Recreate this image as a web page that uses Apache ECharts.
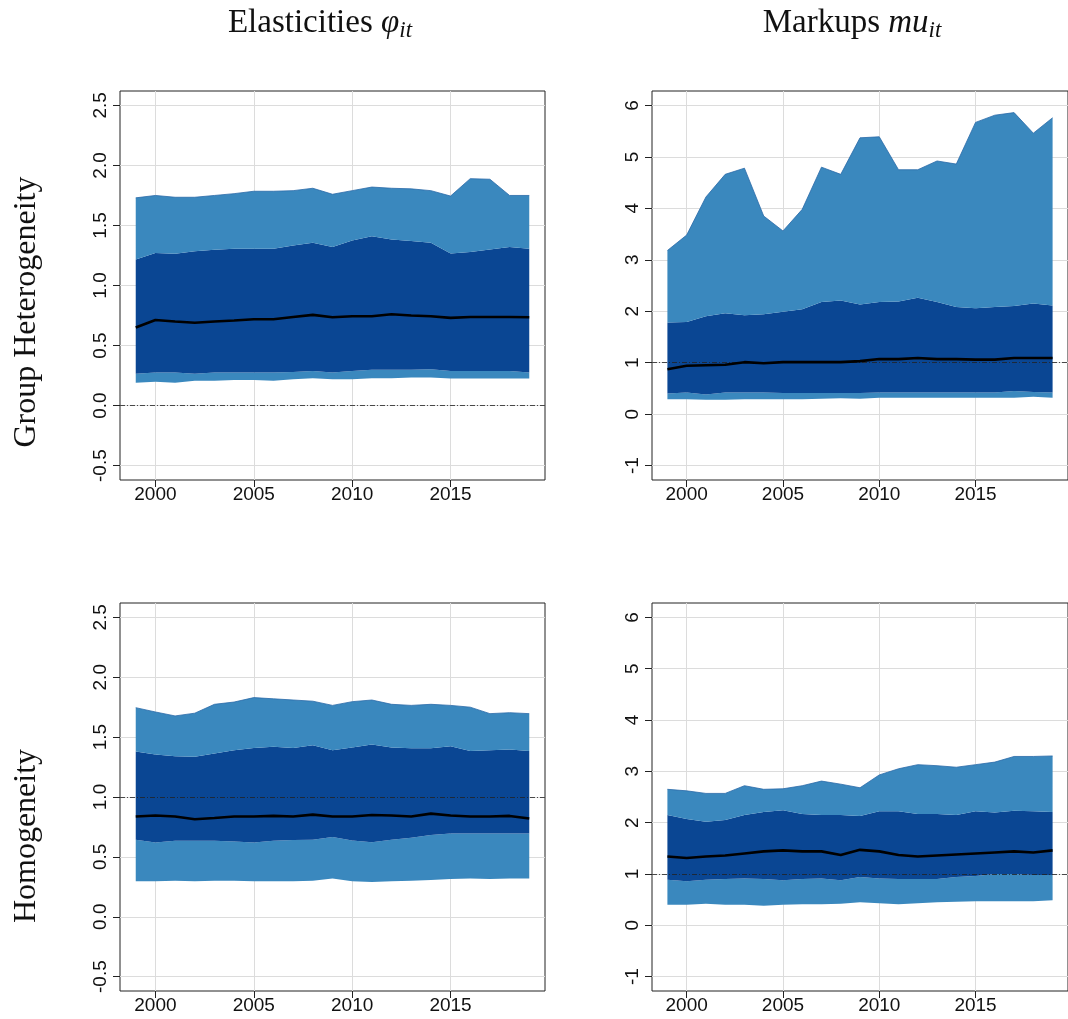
<!DOCTYPE html>
<html>
<head>
<meta charset="utf-8">
<script src="https://cdn.jsdelivr.net/npm/echarts@6/dist/echarts.min.js"></script>
<style>
html,body{margin:0;padding:0;background:#fff;}
#chart{width:1068px;height:1019px;}
</style>
</head>
<body>
<div id="chart"></div>
<script>
// ---------- DATA ----------
const years = [1999,2000,2001,2002,2003,2004,2005,2006,2007,2008,2009,2010,2011,2012,2013,2014,2015,2016,2017,2018,2019];

const xTicks = [2000, 2005, 2010, 2015];
const yTicksElast = [-0.5, 0, 0.5, 1, 1.5, 2, 2.5];
const yTicksMarkup = [-1, 0, 1, 2, 3, 4, 5, 6];

const colTitles = ['Elasticities', 'Markups'];
const rowTitles = ['Group Heterogeneity', 'Homogeneity'];

// Group heterogeneity - elasticities
const ghElastOuterLo = [0.19,0.198,0.19,0.206,0.206,0.212,0.212,0.206,0.22,0.228,0.22,0.22,0.228,0.228,0.234,0.234,0.226,0.226,0.226,0.226,0.226];
const ghElastInnerLo = [0.265,0.276,0.276,0.265,0.276,0.276,0.276,0.276,0.28,0.287,0.276,0.287,0.298,0.298,0.298,0.303,0.287,0.287,0.287,0.287,0.276];
const ghElastMedian  = [0.65,0.713,0.70,0.69,0.70,0.708,0.719,0.719,0.738,0.755,0.735,0.744,0.744,0.76,0.75,0.744,0.73,0.738,0.738,0.738,0.735];
const ghElastInnerUp = [1.217,1.27,1.265,1.285,1.298,1.306,1.306,1.306,1.334,1.356,1.32,1.375,1.41,1.384,1.37,1.356,1.267,1.28,1.30,1.32,1.306];
const ghElastOuterUp = [1.73,1.75,1.735,1.735,1.75,1.765,1.785,1.785,1.79,1.81,1.76,1.79,1.82,1.81,1.805,1.79,1.745,1.89,1.885,1.75,1.75];

// Group heterogeneity - markups
const ghMarkOuterLo = [0.29,0.29,0.28,0.28,0.29,0.29,0.29,0.29,0.30,0.31,0.30,0.32,0.32,0.32,0.32,0.32,0.32,0.32,0.32,0.34,0.32];
const ghMarkInnerLo = [0.40,0.42,0.38,0.42,0.42,0.42,0.41,0.41,0.41,0.41,0.41,0.42,0.42,0.42,0.42,0.42,0.42,0.42,0.45,0.43,0.42];
const ghMarkMedian  = [0.874,0.94,0.95,0.96,1.01,0.99,1.01,1.01,1.01,1.01,1.03,1.07,1.07,1.09,1.07,1.07,1.06,1.06,1.09,1.09,1.09];
const ghMarkInnerUp = [1.78,1.79,1.90,1.96,1.92,1.94,1.99,2.04,2.18,2.21,2.13,2.18,2.19,2.26,2.18,2.08,2.06,2.08,2.10,2.15,2.11];
const ghMarkOuterUp = [3.18,3.48,4.22,4.66,4.78,3.85,3.56,3.98,4.80,4.66,5.37,5.39,4.75,4.75,4.92,4.86,5.67,5.81,5.86,5.46,5.76];

// Homogeneity - elasticities
const hoElastOuterLo = [0.296,0.296,0.30,0.296,0.30,0.30,0.296,0.296,0.296,0.30,0.32,0.296,0.29,0.296,0.30,0.307,0.315,0.32,0.315,0.32,0.32];
const hoElastInnerLo = [0.643,0.62,0.634,0.634,0.634,0.629,0.62,0.634,0.64,0.643,0.667,0.637,0.623,0.643,0.66,0.682,0.695,0.695,0.695,0.695,0.695];
const hoElastMedian  = [0.837,0.845,0.837,0.814,0.825,0.837,0.837,0.842,0.837,0.853,0.837,0.837,0.85,0.845,0.837,0.861,0.845,0.837,0.837,0.842,0.82];
const hoElastInnerUp = [1.38,1.355,1.34,1.336,1.363,1.39,1.41,1.419,1.41,1.433,1.39,1.413,1.438,1.413,1.408,1.408,1.424,1.385,1.39,1.397,1.385];
const hoElastOuterUp = [1.746,1.71,1.677,1.70,1.774,1.793,1.83,1.82,1.81,1.80,1.765,1.796,1.81,1.774,1.765,1.774,1.765,1.75,1.696,1.704,1.696];

// Homogeneity - markups
const hoMarkOuterLo = [0.40,0.40,0.42,0.40,0.40,0.38,0.40,0.41,0.41,0.42,0.45,0.43,0.41,0.43,0.45,0.46,0.47,0.47,0.47,0.47,0.49];
const hoMarkInnerLo = [0.89,0.86,0.89,0.90,0.91,0.90,0.88,0.90,0.91,0.88,0.94,0.91,0.90,0.90,0.90,0.94,0.96,1.00,1.00,0.98,0.98];
const hoMarkMedian  = [1.34,1.31,1.34,1.36,1.40,1.44,1.46,1.44,1.44,1.37,1.47,1.44,1.37,1.34,1.36,1.38,1.40,1.42,1.44,1.42,1.46];
const hoMarkInnerUp = [2.15,2.07,2.02,2.05,2.15,2.21,2.24,2.17,2.15,2.15,2.13,2.22,2.22,2.17,2.17,2.15,2.22,2.20,2.23,2.22,2.21];
const hoMarkOuterUp = [2.65,2.62,2.57,2.57,2.72,2.65,2.66,2.72,2.81,2.75,2.68,2.93,3.05,3.13,3.11,3.08,3.13,3.18,3.29,3.29,3.30];

const refLines = [0, 1, 1, 1];

// ---------- STYLE ----------
const LIGHT = '#3a88be';
const DARK = '#0a4693';
const EDGE = '#2a6aa8';
const GRIDC = '#dcdcdc';
const TICKFONT = 'Liberation Sans, Arial, sans-serif';
const SERIF = 'Liberation Serif, Times New Roman, serif';

const panels = [
  {lo: ghElastOuterLo, ilo: ghElastInnerLo, med: ghElastMedian, iup: ghElastInnerUp, up: ghElastOuterUp, yt: yTicksElast, ymin: -0.62, ymax: 2.62, dec: 1},
  {lo: ghMarkOuterLo, ilo: ghMarkInnerLo, med: ghMarkMedian, iup: ghMarkInnerUp, up: ghMarkOuterUp, yt: yTicksMarkup, ymin: -1.28, ymax: 6.28, dec: 0},
  {lo: hoElastOuterLo, ilo: hoElastInnerLo, med: hoElastMedian, iup: hoElastInnerUp, up: hoElastOuterUp, yt: yTicksElast, ymin: -0.62, ymax: 2.62, dec: 1},
  {lo: hoMarkOuterLo, ilo: hoMarkInnerLo, med: hoMarkMedian, iup: hoMarkInnerUp, up: hoMarkOuterUp, yt: yTicksMarkup, ymin: -1.28, ymax: 6.28, dec: 0}
];

const gridBoxes = [
  {left: 120, top: 91, width: 425, height: 389},
  {left: 652, top: 91, width: 427, height: 389},
  {left: 120, top: 603, width: 425, height: 388},
  {left: 652, top: 603, width: 427, height: 388}
];

const grids = [], xAxes = [], yAxes = [], series = [];

function bandSeries(i, lower, upper, color) {
  const rows = years.map((y, k) => [y, lower[k], upper[k]]);
  return {
    type: 'custom', xAxisIndex: i, yAxisIndex: i, silent: true, animation: false, z: 2,
    data: rows,
    encode: {x: 0, y: [1, 2]},
    renderItem: function (params, api) {
      if (params.dataIndex !== 0) return null;
      const pts = [];
      for (let k = 0; k < rows.length; k++) pts.push(api.coord([rows[k][0], rows[k][2]]));
      for (let k = rows.length - 1; k >= 0; k--) pts.push(api.coord([rows[k][0], rows[k][1]]));
      return {type: 'polygon', shape: {points: pts}, style: {fill: color, stroke: null}};
    }
  };
}

panels.forEach((p, i) => {
  grids.push(Object.assign({show: true, borderColor: '#222', borderWidth: 1, backgroundColor: 'transparent', containLabel: false}, gridBoxes[i]));
  xAxes.push({
    type: 'value', gridIndex: i, min: 1998.2, max: 2019.8,
    axisLine: {show: false, onZero: false},
    axisTick: {show: true, length: 7, customValues: xTicks, lineStyle: {color: '#222', width: 1}},
    axisLabel: {customValues: xTicks, margin: 5, color: '#111', fontSize: 19, fontFamily: TICKFONT, formatter: v => String(v)},
    splitLine: {show: true, lineStyle: {color: GRIDC, width: 1}}
  });
  yAxes.push({
    type: 'value', gridIndex: i, min: p.ymin, max: p.ymax,
    axisLine: {show: false, onZero: false},
    axisTick: {show: true, length: 7, customValues: p.yt, lineStyle: {color: '#222', width: 1}},
    axisLabel: {customValues: p.yt, rotate: 90, margin: 10, color: '#111', fontSize: 19, fontFamily: TICKFONT,
      formatter: v => Number(v).toFixed(p.dec)},
    splitLine: {show: true, lineStyle: {color: GRIDC, width: 1}}
  });
  const pair = arr => years.map((y, k) => [y, arr[k]]);
  series.push(bandSeries(i, p.lo, p.ilo, LIGHT));
  series.push(bandSeries(i, p.ilo, p.iup, DARK));
  series.push(bandSeries(i, p.iup, p.up, LIGHT));
  series.push({type: 'line', xAxisIndex: i, yAxisIndex: i, data: pair(p.up), symbol: 'none', silent: true, animation: false, z: 3,
    lineStyle: {color: EDGE, width: 0.8},
    markLine: {silent: true, symbol: ['none', 'none'], animation: false, z: 5,
      label: {show: false},
      lineStyle: {color: '#222', width: 0.8, type: [5, 2, 1, 2]},
      data: [{yAxis: refLines[i]}]}
  });
  series.push({type: 'line', xAxisIndex: i, yAxisIndex: i, data: pair(p.med), symbol: 'none', silent: true, animation: false, z: 6,
    lineStyle: {color: '#000', width: 2.6}});
});

const richTitle = {
  a: {fontFamily: SERIF, fontSize: 33, lineHeight: 38, verticalAlign: 'middle', fill: '#111'},
  b: {fontFamily: SERIF, fontSize: 33, fontStyle: 'italic', lineHeight: 38, verticalAlign: 'middle', fill: '#111'},
  s: {fontFamily: SERIF, fontSize: 23, fontStyle: 'italic', lineHeight: 23, verticalAlign: 'bottom', fill: '#111'}
};

const graphics = [
  {type: 'text', x: 320, y: 23, style: {text: '{a|' + colTitles[0] + ' }{b|φ}{s|it}', align: 'center', verticalAlign: 'middle', rich: richTitle}},
  {type: 'text', x: 852, y: 23, style: {text: '{a|' + colTitles[1] + ' }{b|mu}{s|it}', align: 'center', verticalAlign: 'middle', rich: richTitle}},
  {type: 'text', x: 27, y: 312, rotation: Math.PI / 2, style: {text: rowTitles[0], font: '32px ' + SERIF, fill: '#111', align: 'center', verticalAlign: 'middle'}},
  {type: 'text', x: 27, y: 836, rotation: Math.PI / 2, style: {text: rowTitles[1], font: '32px ' + SERIF, fill: '#111', align: 'center', verticalAlign: 'middle'}}
];

const chart = echarts.init(document.getElementById('chart'), null, {renderer: 'canvas'});
chart.setOption({
  animation: false,
  backgroundColor: '#fff',
  grid: grids,
  xAxis: xAxes,
  yAxis: yAxes,
  series: series,
  graphic: graphics
});
</script>
</body>
</html>
